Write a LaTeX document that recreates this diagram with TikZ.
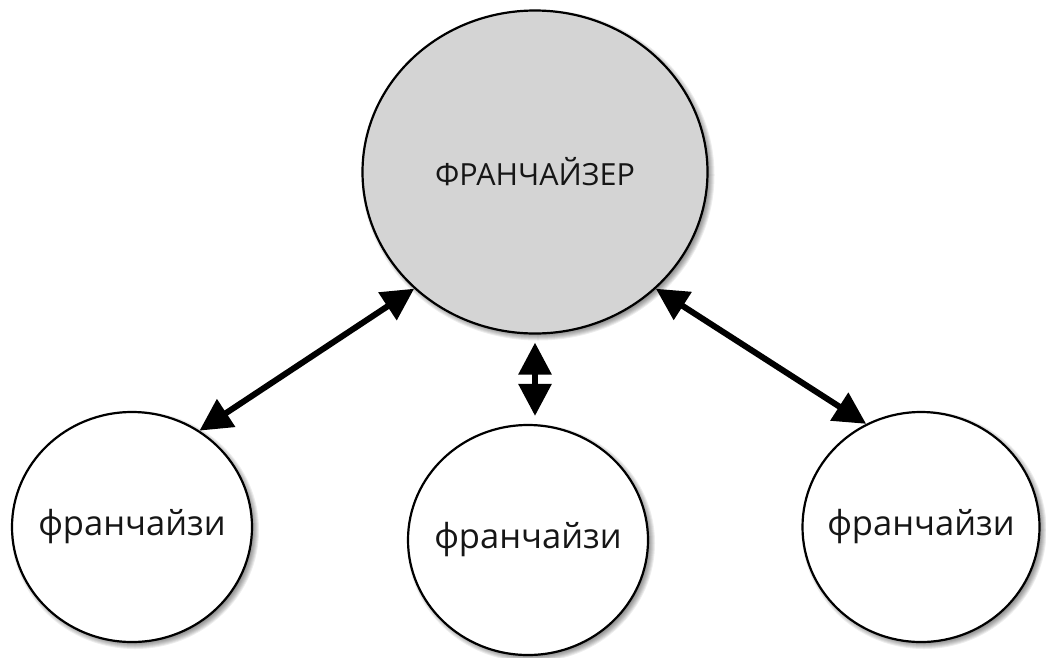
\documentclass[tikz,border=0pt]{standalone}
\usepackage{fontspec}
\setmainfont{Open Sans}
\usetikzlibrary{arrows.meta,shapes.geometric}
\definecolor{bubblegray}{RGB}{212,212,212}
\definecolor{ink}{RGB}{22,22,22}
% label text set in a zero-width box so that it does not enlarge the ellipse
\newcommand\bubbletext[1]{\makebox[0pt][c]{#1}}
\tikzset{
  bubble/.style={ellipse, draw=black, line width=2.2pt, fill=white, inner sep=0pt, text=ink},
  hub/.style={bubble, fill=bubblegray, font=\fontsize{30.5}{36}\selectfont},
  member/.style={bubble, font=\fontsize{34.5}{42}\selectfont},
  link/.style={line width=6pt, {Triangle[length=32pt,width=32pt]}-{Triangle[length=32pt,width=32pt]}},
}
% soft drop shadow below an ellipse: centre x, centre y, x radius, y radius
\newcommand\bubbleshadow[4]{%
  \foreach \k in {0,...,7}{%
    \pgfmathsetmacro\rxs{#3-3+\k}\pgfmathsetmacro\rys{#4-3+\k}%
    \fill[black,opacity=0.07] (#1+3,#2+3) ellipse [x radius=\rxs pt, y radius=\rys pt];}}
\begin{document}
\begin{tikzpicture}[x=1pt,y=-1pt]
  \useasboundingbox (0,0) rectangle (1046,657);
  \fill[white] (0,0) rectangle (1046,657);
  \bubbleshadow{535}{172}{172.5}{161.5}
  \bubbleshadow{132}{527}{120}{115}
  \bubbleshadow{528}{540}{120}{115}
  \bubbleshadow{921}{527}{118.5}{115}
  \node[hub, minimum width=345pt, minimum height=323pt] (top) at (535,172) {\bubbletext{ФРАНЧАЙЗЕР}};
  \node[member, minimum width=240pt, minimum height=230pt] (left) at (132,527) {\bubbletext{франчайзи}};
  \node[member, minimum width=240pt, minimum height=230pt] (mid) at (528,540) {\bubbletext{франчайзи}};
  \node[member, minimum width=237pt, minimum height=230pt] (right) at (921,527) {\bubbletext{франчайзи}};
  \draw[link] (top.224) -- (left.55);
  \draw[link] (top.316) -- (right.118);
  \draw[link] ([yshift=-8pt]top.south) -- ([yshift=8pt]top.south |- mid.north);
\end{tikzpicture}
\end{document}
